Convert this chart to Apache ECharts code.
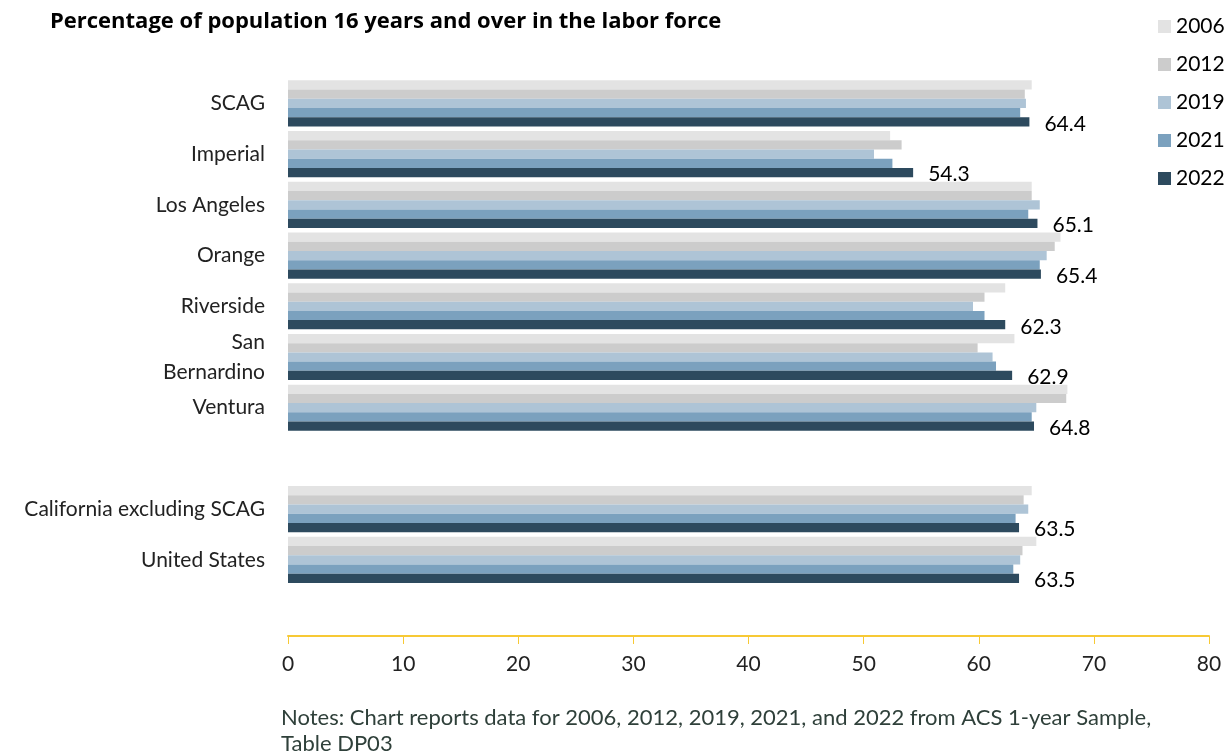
<!DOCTYPE html>
<html>
<head>
<meta charset="utf-8">
<script src="https://cdn.jsdelivr.net/npm/echarts@6/dist/echarts.min.js"></script>
<style>
  html, body { margin: 0; padding: 0; background: #fff; }
  #chart { width: 1227px; height: 756px; }
</style>
</head>
<body>
<div id="chart"></div>
<script>
// Regions (blank entries leave a spacer row and the bottom padding row)
const categories = ['SCAG', 'Imperial', 'Los Angeles', 'Orange', 'Riverside', 'San\nBernardino', 'Ventura', ' ', 'California excluding SCAG', 'United States', '  '];
const years = ['2006', '2012', '2019', '2021', '2022'];

// Labor force participation (%), per year
const v2006 = [64.6, 52.3, 64.6, 67.1, 62.3, 63.1, 67.7, null, 64.6, 65.0, null];
const v2012 = [64.0, 53.3, 64.6, 66.6, 60.5, 59.9, 67.6, null, 63.9, 63.8, null];
const v2019 = [64.1, 50.9, 65.3, 65.9, 59.5, 61.2, 65.0, null, 64.3, 63.6, null];
const v2021 = [63.6, 52.5, 64.3, 65.3, 60.5, 61.5, 64.6, null, 63.2, 63.0, null];
const v2022 = [64.4, 54.3, 65.1, 65.4, 62.3, 62.9, 64.8, null, 63.5, 63.5, null];

const xTicks = { min: 0, max: 80, interval: 10 };
const noteText = 'Notes: Chart reports data for 2006, 2012, 2019, 2021, and 2022 from ACS 1-year Sample,\nTable DP03';

const colors = ['#E3E3E3', '#CCCCCC', '#AEC4D6', '#7BA1BE', '#2D4A5E'];
const seriesValues = [v2006, v2012, v2019, v2021, v2022];
const FONT = 'Lato';

const chart = echarts.init(document.getElementById('chart'), null, { renderer: 'canvas' });

const series = years.map((y, i) => ({
  name: y,
  type: 'bar',
  data: seriesValues[i],
  barGap: '0%',
  barCategoryGap: '9%',
  itemStyle: { color: colors[i] },
  animation: false,
  label: i === years.length - 1 ? {
    show: true,
    position: 'right',
    distance: 15,
    offset: [0, 2],
    color: '#000',
    fontFamily: FONT,
    fontSize: 21,
    formatter: p => p.value == null ? '' : p.value.toFixed(1)
  } : { show: false }
}));

chart.setOption({
  backgroundColor: '#fff',
  textStyle: { fontFamily: FONT },
  title: {
    text: 'Percentage of population 16 years and over in the labor force',
    left: 45,
    top: 6,
    textStyle: { fontFamily: 'Open Sans', fontWeight: 'bold', fontSize: 22, color: '#000' }
  },
  legend: {
    data: years,
    orient: 'vertical',
    left: 1153,
    top: 11,
    itemWidth: 13,
    itemHeight: 13,
    itemGap: 17,
    icon: 'rect',
    textStyle: { fontFamily: FONT, fontSize: 21, color: '#000' }
  },
  grid: { left: 288, right: 18, top: 78, height: 558, containLabel: false },
  xAxis: {
    type: 'value',
    min: xTicks.min,
    max: xTicks.max,
    interval: xTicks.interval,
    position: 'bottom',
    axisLine: { show: true, lineStyle: { color: '#F7C935', width: 2 } },
    axisTick: { show: true, inside: false, length: 8, lineStyle: { color: '#F7C935' } },
    splitLine: { show: false },
    axisLabel: { color: '#222', fontFamily: FONT, fontSize: 21, margin: 18 }
  },
  yAxis: {
    type: 'category',
    data: categories,
    inverse: true,
    axisLine: { show: false },
    axisTick: { show: false },
    axisLabel: {
      color: '#222',
      fontFamily: FONT,
      fontSize: 21,
      margin: 23,
      lineHeight: 30,
      align: 'right'
    }
  },
  graphic: [{
    type: 'text',
    left: 281,
    top: 705,
    style: { text: noteText, fontFamily: FONT, fontSize: 22, fill: '#2F403A', lineHeight: 26 }
  }],
  series
});
</script>
</body>
</html>
